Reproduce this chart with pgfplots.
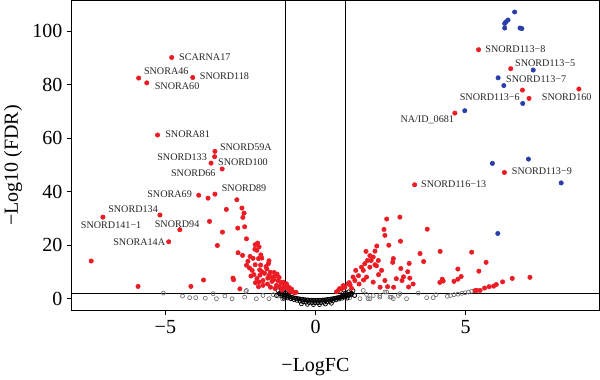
\documentclass[border=0pt]{standalone}
\usepackage{fontspec}
\setmainfont{Liberation Serif}
\usepackage{pgfplots}
\pgfplotsset{compat=1.18}
\definecolor{sigred}{RGB}{236,28,36}
\definecolor{sigblue}{RGB}{42,62,170}
\tikzset{lbl/.style={font=\fontsize{7.6}{9}\selectfont, text=black!85, inner sep=0pt}}
\begin{document}
\begin{tikzpicture}
\begin{axis}[
  name=ax,
  scale only axis, width=395.25pt, height=232.5pt,
  xmin=-8.11, xmax=9.44, ymin=-4.4, ymax=111.5,
  xtick={-5,0,5}, xticklabels={−5,0,5},
  ytick={0,20,40,60,80,100},
  tick pos=left, tick align=outside, major tick length=3.75pt,
  tick style={black, line width=0.75pt},
  axis line style={line width=0.75pt},
  /pgf/number format/assume math mode=true,
  ticklabel style={font=\fontsize{15}{18}\selectfont},
  xlabel={−LogFC}, ylabel={−Log10 (FDR)},
  label style={font=\fontsize{15}{18}\selectfont},
  xlabel style={at={(axis description cs:0.462,0)}, anchor=base, yshift=-45.75pt},
  ylabel style={at={(axis description cs:-0.112,0.468)}, anchor=center},
  clip=false,
]
% not significant (grey open circles)
\addplot[only marks, mark=o, mark size=1.5pt, black!55, mark options={line width=0.5pt}] table {
-5.07 2.1
-4.43 1.0
-4.19 0.4
-3.99 0.4
-3.67 0.2
-3.30 0.0
-3.41 1.9
-3.02 1.0
-2.78 0.0
-2.36 0.6
-2.32 2.7
-1.97 0.0
-1.55 0.0
-1.41 1.5
-1.10 0.0
-2.30 3.1
-1.75 1.2
-1.25 1.0
1.59 3.1
1.75 0.0
1.92 1.2
2.14 0.6
2.37 2.5
2.53 0.6
2.81 1.9
3.03 0.0
3.42 2.1
3.70 0.4
4.01 1.5
4.39 0.9
4.50 1.2
4.61 1.5
4.74 1.7
4.87 2.0
4.98 2.2
5.09 2.5
5.20 2.8
3.92 0.4
0.81 0.6
1.14 0.4
1.31 1.2
1.48 0.0
1.70 1.6
1.81 0.0
2.14 1.2
2.31 2.5
2.48 0.6
2.59 0.0
2.76 1.2
};
% central band (black open circles)
\addplot[only marks, mark=o, mark size=1.5pt, black, mark options={line width=0.55pt}] table {
-1.20 2.0
-1.15 1.8
-1.10 1.6
-1.05 1.4
-1.00 1.2
-0.95 1.0
-0.90 0.9
-0.85 0.7
-0.80 0.55
-0.75 0.4
-0.70 0.3
-0.65 0.15
-0.60 0.05
-0.55 -0.05
-0.50 -0.15
-0.45 -0.25
-0.40 -0.3
-0.35 -0.4
-0.30 -0.45
-0.25 -0.5
-0.20 -0.55
-0.15 -0.55
-0.10 -0.6
-0.05 -0.6
0.00 -0.6
0.05 -0.6
0.10 -0.6
0.15 -0.55
0.20 -0.55
0.25 -0.5
0.30 -0.45
0.35 -0.4
0.40 -0.3
0.45 -0.25
0.50 -0.15
0.55 -0.05
0.60 0.05
0.65 0.15
0.70 0.3
0.75 0.4
0.80 0.55
0.85 0.7
0.90 0.9
0.95 1.0
1.00 1.2
1.05 1.4
1.10 1.6
1.15 1.8
1.20 2.0
-1.12 1.1
-1.02 0.7
-0.92 0.3
-0.82 0.0
-0.72 -0.3
-0.62 -0.6
-0.52 -0.9
-0.42 -1.1
-0.32 -1.3
-0.22 -1.4
-0.12 -1.5
-0.02 -1.5
0.08 -1.5
0.18 -1.45
0.28 -1.35
0.38 -1.2
0.48 -1.0
0.58 -0.7
0.68 -0.4
0.78 -0.1
0.88 0.2
0.98 0.6
1.08 1.0
1.18 1.4
-1.25 3.0
-1.10 2.6
-1.00 2.2
-0.90 1.9
0.90 1.9
1.00 2.2
1.10 2.6
1.25 3.0
-1.30 1.2
1.30 1.2
-1.05 0.2
1.05 0.2
-0.47 -1.9
-0.27 -2.1
-0.07 -2.2
0.13 -2.2
0.33 -2.0
0.53 -1.7
};
% significant (red)
\addplot[only marks, mark=*, mark size=1.65pt, sigred, mark options={draw=sigred, fill=sigred}] table {
-4.79 90.2
-5.89 82.5
-5.62 80.7
-4.09 82.7
-5.26 61.2
-3.35 55.1
-3.36 53.1
-3.48 50.7
-3.11 48.5
-3.89 38.7
-3.35 39.1
-5.18 31.3
-7.08 30.5
-4.52 25.8
-4.89 21.3
-3.58 37.6
-2.62 37.0
-2.97 33.4
-2.45 33.9
-2.38 32.0
-2.42 30.4
-2.36 26.9
-2.59 26.4
-3.10 24.9
-2.30 22.4
-3.27 19.9
-3.53 28.9
-7.47 14.1
-5.91 4.6
-4.15 4.6
-3.73 7.0
-2.52 3.7
-2.75 7.7
-2.73 7.1
-2.58 17.2
-2.43 16.2
-1.93 20.8
-2.01 20.2
-1.88 19.4
-1.95 18.1
-2.02 18.5
-2.18 15.8
-2.08 15.1
-1.82 16.4
-1.90 15.0
-1.79 15.2
-1.55 14.2
-1.57 13.1
-1.83 12.6
-2.01 12.7
-2.11 10.6
-1.86 10.8
-1.79 10.1
-1.62 11.1
-1.50 9.9
-1.38 9.8
-1.28 9.2
-1.95 7.5
-1.88 6.2
-1.75 6.8
-1.59 7.7
-1.47 8.1
-1.36 8.3
-1.21 7.9
-1.08 6.2
-0.97 5.6
-2.30 12.5
-2.20 11.5
-2.05 9.0
-1.70 9.5
-1.65 12.0
-1.45 6.5
-1.30 5.0
-1.20 4.5
-1.10 3.8
-1.00 4.2
-0.90 3.5
-0.85 2.8
-0.80 3.0
-0.75 2.5
-0.70 2.3
-1.15 6.0
-1.05 5.0
-1.40 7.0
-1.60 5.5
-1.90 4.5
-1.75 5.0
-2.00 6.0
-2.15 8.5
-1.85 8.8
-1.55 8.7
-1.25 6.8
-0.95 4.8
-0.88 4.2
-0.80 3.6
-0.65 2.4
-1.35 3.8
-1.12 3.2
-1.50 4.3
-2.25 14.0
3.30 42.6
5.43 93.1
6.50 86.0
6.89 78.0
7.11 74.9
8.77 78.4
4.64 69.4
6.29 47.2
2.81 30.5
2.37 29.8
2.28 25.9
2.31 23.7
3.72 26.0
2.04 19.7
1.98 17.8
2.83 21.5
2.44 20.0
1.68 17.7
1.81 16.1
1.92 15.6
1.85 14.3
1.98 12.7
2.59 15.0
2.57 13.6
3.48 16.9
4.15 17.7
5.20 17.4
3.60 13.9
3.12 13.2
2.03 12.3
2.84 11.3
3.07 10.1
2.93 8.2
4.74 11.1
4.85 8.3
4.74 7.3
4.61 6.5
4.22 7.3
4.25 6.6
4.14 6.1
2.69 7.5
2.88 6.8
3.14 7.7
2.40 4.5
2.60 4.3
3.10 4.4
2.15 4.3
5.48 3.1
5.68 13.6
5.44 10.3
7.14 8.0
6.55 7.6
6.23 6.3
6.02 5.3
5.93 4.7
5.78 4.5
5.63 4.0
5.37 3.1
5.31 3.0
1.15 5.2
1.31 6.8
1.43 8.6
1.59 10.6
1.53 11.8
1.64 13.1
1.73 14.3
1.81 11.8
1.34 10.6
1.25 8.1
2.09 14.3
2.20 10.6
2.31 6.8
1.70 8.1
1.92 6.2
1.12 6.0
0.87 3.7
0.98 4.3
0.92 4.9
1.09 5.6
0.75 3.0
0.80 3.8
0.70 2.6
1.45 5.5
1.60 7.0
2.10 9.0
1.20 3.9
3.25 5.5
};
% significant (blue)
\addplot[only marks, mark=*, mark size=1.65pt, sigblue, mark options={draw=sigblue, fill=sigblue}] table {
6.63 107.2
6.41 104.2
6.34 103.5
6.30 102.9
6.30 101.2
6.81 101.2
6.87 101.0
7.25 85.5
6.08 82.6
6.27 79.7
6.90 73.0
4.97 70.3
5.89 50.6
7.09 52.2
8.18 43.3
6.07 24.4
};
% threshold lines
\addplot[black, line width=0.75pt] coordinates {(-1,-4.4) (-1,111.5)};
\addplot[black, line width=0.75pt] coordinates {(1,-4.4) (1,111.5)};
\addplot[black, line width=0.75pt] coordinates {(-8.11,1.87) (9.44,1.87)};
% labels
\node[lbl, anchor=west] at (axis cs:-4.55,90.2) {SCARNA17};
\node[lbl, anchor=west] at (axis cs:-5.72,85.0) {SNORA46};
\node[lbl, anchor=west] at (axis cs:-5.36,79.5) {SNORA60};
\node[lbl, anchor=west] at (axis cs:-3.86,83.1) {SNORD118};
\node[lbl, anchor=west] at (axis cs:-5.01,61.4) {SNORA81};
\node[lbl, anchor=west] at (axis cs:-3.19,56.6) {SNORD59A};
\node[lbl, anchor=east] at (axis cs:-3.61,53.1) {SNORD133};
\node[lbl, anchor=west] at (axis cs:-3.25,51.0) {SNORD100};
\node[lbl, anchor=east] at (axis cs:-3.32,47.0) {SNORD66};
\node[lbl, anchor=west] at (axis cs:-3.13,41.5) {SNORD89};
\node[lbl, anchor=east] at (axis cs:-4.11,39.0) {SNORA69};
\node[lbl, anchor=west] at (axis cs:-6.91,33.5) {SNORD134};
\node[lbl, anchor=west] at (axis cs:-7.82,27.5) {SNORD141−1};
\node[lbl, anchor=west] at (axis cs:-5.36,28.0) {SNORD94};
\node[lbl, anchor=east] at (axis cs:-5.0,21.0) {SNORA14A};
\node[lbl, anchor=west] at (axis cs:5.65,93.2) {SNORD113−8};
\node[lbl, anchor=west] at (axis cs:6.64,87.9) {SNORD113−5};
\node[lbl, anchor=west] at (axis cs:6.34,81.9) {SNORD113−7};
\node[lbl, anchor=east] at (axis cs:6.81,75.3) {SNORD113−6};
\node[lbl, anchor=west] at (axis cs:7.53,75.3) {SNORD160};
\node[lbl, anchor=east] at (axis cs:4.62,66.9) {NA/ID\_0681};
\node[lbl, anchor=west] at (axis cs:6.53,47.5) {SNORD113−9};
\node[lbl, anchor=west] at (axis cs:3.51,43.0) {SNORD116−13};
\end{axis}
\pgfresetboundingbox
\path[use as bounding box] ([xshift=-54pt,yshift=-51.75pt]ax.south west) rectangle ([xshift=0.75pt,yshift=0.375pt]ax.north east);
\end{tikzpicture}
\end{document}
